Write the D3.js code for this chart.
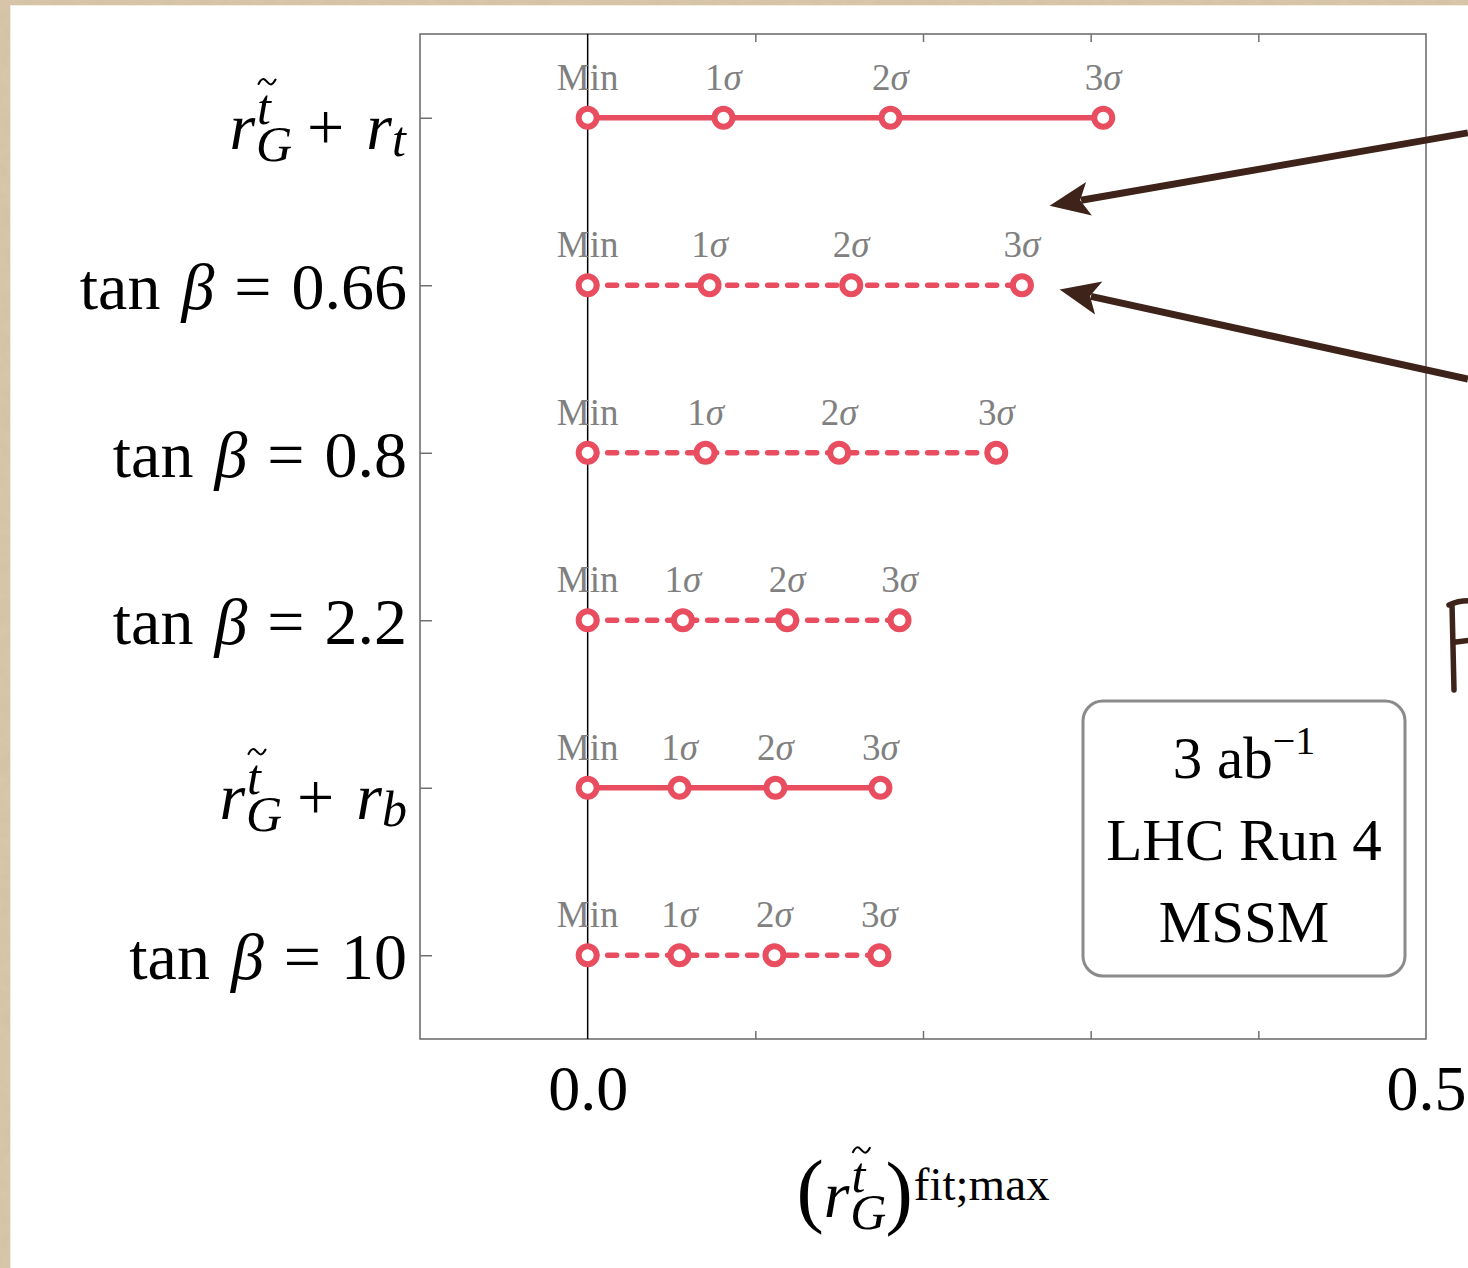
<!DOCTYPE html>
<html>
<head>
<meta charset="utf-8">
<script src="https://cdn.jsdelivr.net/npm/d3@7"></script>
<style>
  html, body { margin: 0; padding: 0; background: #ffffff; }
  svg { display: block; }
</style>
</head>
<body>
<script>
// ---- data -------------------------------------------------------------
const rowLabels = ["r_G^t + r_t", "tan β = 0.66", "tan β = 0.8", "tan β = 2.2", "r_G^t + r_b", "tan β = 10"];
const lineStyles = ["solid", "dashed", "dashed", "dashed", "solid", "dashed"];
const minValues = [0, 0, 0, 0, 0, 0];
const sigma1Values = [0.081, 0.0727, 0.0703, 0.0568, 0.0548, 0.0548];
const sigma2Values = [0.1806, 0.1572, 0.1500, 0.1190, 0.1120, 0.1114];
const sigma3Values = [0.3075, 0.2590, 0.2437, 0.1860, 0.1746, 0.1740];
const pointLabels = ["Min", "1σ", "2σ", "3σ"];
const xTickLabels = [0.0, 0.5];
const xMinorTicks = [0.1, 0.2, 0.3, 0.4];
const legendLines = ["3 ab^−1", "LHC Run 4", "MSSM"];

// ---- layout -------------------------------------------------------------
const W = 1468, H = 1268;
const frame = { left: 420, right: 1426, top: 34, bottom: 1039 };
const serif = "'Liberation Serif', 'DejaVu Serif', serif";
const markColor = "#e84d60";
const inkBrown = "#3e231a";

const svg = d3.select("body").append("svg")
  .attr("width", W).attr("height", H)
  .attr("font-family", serif);

// paper background with a faint grain
const defs = svg.append("defs");
const grain = defs.append("filter").attr("id", "grain")
  .attr("x", 0).attr("y", 0).attr("width", "100%").attr("height", "100%");
grain.append("feTurbulence").attr("type", "fractalNoise")
  .attr("baseFrequency", 0.08).attr("numOctaves", 2).attr("seed", 3).attr("result", "n");
grain.append("feColorMatrix").attr("in", "n").attr("type", "matrix")
  .attr("values", "0 0 0 0 0.55  0 0 0 0 0.45  0 0 0 0 0.33  0 0 0 0.35 -0.05");
svg.append("rect").attr("width", W).attr("height", H).attr("fill", "#dac7aa");
svg.append("rect").attr("width", W).attr("height", H).attr("filter", "url(#grain)");
svg.append("rect").attr("x", 10).attr("y", 5).attr("width", W).attr("height", H).attr("fill", "#f4ecdc");
svg.append("rect").attr("x", 11).attr("y", 6).attr("width", W).attr("height", H).attr("fill", "#ffffff");

// ---- scales ---------------------------------------------------------------
const x = d3.scaleLinear().domain([-0.1, 0.5]).range([frame.left, frame.right]);
const y = d3.scaleLinear().domain([0.5, 6.5]).range([frame.top, frame.bottom]);

// ---- axes & frame ---------------------------------------------------------
const axisColor = "#707070";
function styleAxis(g) {
  g.select(".domain").remove();
  g.selectAll(".tick line").attr("stroke", axisColor).attr("stroke-width", 1.5);
}
svg.append("g").attr("transform", `translate(0,${frame.bottom})`)
  .call(d3.axisBottom(x).tickValues(xMinorTicks).tickSize(-8).tickFormat(""))
  .call(styleAxis);
svg.append("g").attr("transform", `translate(0,${frame.top})`)
  .call(d3.axisTop(x).tickValues(xMinorTicks).tickSize(-8).tickFormat(""))
  .call(styleAxis);
svg.append("g").attr("transform", `translate(${frame.left},0)`)
  .call(d3.axisLeft(y).tickValues(d3.range(1, rowLabels.length + 1)).tickSize(-12).tickFormat(""))
  .call(styleAxis);

// labelled ticks on the horizontal axis
const xLab = svg.append("g").attr("transform", `translate(0,${frame.bottom})`)
  .call(d3.axisBottom(x).tickValues(xTickLabels).tickSize(0).tickFormat(d3.format(".1f")));
xLab.select(".domain").remove();
xLab.selectAll("text").attr("y", 71).attr("dy", 0)
  .attr("font-family", serif).attr("font-size", 64).attr("fill", "#000");

svg.append("rect")
  .attr("x", frame.left).attr("y", frame.top)
  .attr("width", frame.right - frame.left).attr("height", frame.bottom - frame.top)
  .attr("fill", "none").attr("stroke", axisColor).attr("stroke-width", 1.6);

// zero reference line
svg.append("line")
  .attr("x1", x(0)).attr("x2", x(0)).attr("y1", frame.top).attr("y2", frame.bottom)
  .attr("stroke", "#000").attr("stroke-width", 1.5);

// ---- compound symbol r~_G^t --------------------------------------------------
// Italic r with a stacked subscript G and superscript t; the text cursor
// ends on the subscript baseline after G.
const F = 66, f = 50, supShift = 25, subShift = 12;
function appendRG(text) {
  text.append("tspan").attr("font-style", "italic").attr("font-size", F).text("r");
  text.append("tspan").attr("font-style", "italic").attr("font-size", f)
    .attr("dx", 2).attr("dy", -supShift).text("t");
  text.append("tspan").attr("font-style", "italic").attr("font-size", f)
    .attr("dx", -f * 0.30).attr("dy", supShift + subShift).text("G");
}
// a drawn tilde accent above the character at charIndex
function addTilde(group, text, charIndex) {
  const ext = text.node().getExtentOfChar(charIndex);
  const cx = ext.x + ext.width * 0.5 + 3, cy = ext.y + 3;
  const w = 17, a = 3.6;
  group.append("path")
    .attr("d", `M${cx - w / 2},${cy + a * 0.6} C${cx - w / 4},${cy - a * 1.6} ${cx - w / 8},${cy - a * 0.6} ${cx},${cy}`
      + ` C${cx + w / 8},${cy + a * 0.6} ${cx + w / 4},${cy + a * 1.6} ${cx + w / 2},${cy - a * 0.6}`)
    .attr("fill", "none").attr("stroke", "#000").attr("stroke-width", 2.1)
    .attr("stroke-linecap", "round");
}

// ---- row labels ------------------------------------------------------------
const labelRight = 407;
rowLabels.forEach((lab, i) => {
  const g = svg.append("g");
  const t = g.append("text").attr("x", 0).attr("fill", "#000").attr("font-size", F);
  if (lab.startsWith("tan")) {
    const value = lab.split("=")[1].trim();
    t.attr("y", y(i + 1) + 24);
    t.append("tspan").text("tan");
    t.append("tspan").attr("font-style", "italic").attr("dx", 21).text("β");
    t.append("tspan").attr("dx", 20).text("=");
    t.append("tspan").attr("dx", 20).text(value);
  } else {
    const tail = lab.split("+")[1].trim().split("_")[1];
    t.attr("y", y(i + 1) + 31);
    appendRG(t);
    t.append("tspan").attr("font-size", F).attr("dx", 15).attr("dy", -subShift).text("+");
    t.append("tspan").attr("font-size", F).attr("font-style", "italic").attr("dx", 22).text("r");
    t.append("tspan").attr("font-size", f).attr("font-style", "italic")
      .attr("dy", 7).text(tail);
    addTilde(g, t, 1);
  }
  const bb = t.node().getBBox();
  g.attr("transform", `translate(${labelRight - (bb.x + bb.width)},0)`);
});

// ---- series ------------------------------------------------------------------
const rows = rowLabels.map((lab, i) => ({
  row: i + 1,
  style: lineStyles[i],
  values: [minValues[i], sigma1Values[i], sigma2Values[i], sigma3Values[i]]
}));

const line = d3.line().x(d => x(d.v)).y(d => y(d.row));
const series = svg.append("g").selectAll("g").data(rows).join("g");

series.append("path")
  .attr("d", r => line(r.values.map(v => ({ v, row: r.row }))))
  .attr("fill", "none")
  .attr("stroke", markColor)
  .attr("stroke-width", 5.5)
  .attr("stroke-linecap", r => r.style === "dashed" ? "round" : "butt")
  .attr("stroke-dasharray", r => r.style === "dashed" ? "9 11" : null);

series.selectAll("circle")
  .data(r => r.values.map(v => ({ v, row: r.row })))
  .join("circle")
  .attr("cx", d => x(d.v)).attr("cy", d => y(d.row))
  .attr("r", 9)
  .attr("fill", "#fff")
  .attr("stroke", markColor)
  .attr("stroke-width", 6);

series.selectAll("text.pt")
  .data(r => r.values.map((v, k) => ({ v, row: r.row, k })))
  .join("text")
  .attr("class", "pt")
  .attr("x", d => x(d.v)).attr("y", d => y(d.row) - 28)
  .attr("text-anchor", "middle")
  .attr("font-size", 37)
  .attr("fill", "#808080")
  .each(function (d) {
    const s = pointLabels[d.k];
    const t = d3.select(this);
    if (s.endsWith("σ")) {
      t.append("tspan").text(s.slice(0, -1));
      t.append("tspan").attr("font-style", "italic").text("σ");
    } else {
      t.text(s);
    }
  });

// ---- axis title --------------------------------------------------------------
{
  const g = svg.append("g");
  const t = g.append("text").attr("x", 0).attr("y", 1215).attr("fill", "#000");
  t.append("tspan").attr("font-size", 82).attr("dy", 2).text("(");
  t.append("tspan").attr("font-size", F).attr("dx", -3).attr("dy", -2).text("");
  appendRG(t);
  t.append("tspan").attr("font-size", 82).attr("dx", -1).attr("dy", -subShift + 2).text(")");
  t.append("tspan").attr("font-size", 47).attr("dx", 1).attr("dy", -19).text("fit;max");
  addTilde(g, t, 2);
  const bb = t.node().getBBox();
  g.attr("transform", `translate(${x(0.2) - (bb.x + bb.width / 2)},0)`);
}

// ---- legend box --------------------------------------------------------------
{
  const box = { x: 1083, y: 701, w: 322, h: 275 };
  svg.append("rect")
    .attr("x", box.x).attr("y", box.y).attr("width", box.w).attr("height", box.h)
    .attr("rx", 20).attr("ry", 20)
    .attr("fill", "#fff").attr("stroke", "#8a8a8a").attr("stroke-width", 3);
  const cx = box.x + box.w / 2;
  legendLines.forEach((s, i) => {
    const t = svg.append("text")
      .attr("x", cx).attr("y", box.y + 77 + i * 82)
      .attr("text-anchor", "middle").attr("font-size", 59).attr("fill", "#000");
    if (s.includes("^")) {
      const [base, exp] = s.split("^");
      t.append("tspan").text(base);
      t.append("tspan").attr("font-size", 40).attr("dy", -24).text(exp);
    } else {
      t.text(s);
    }
  });
}

// ---- annotation arrows ------------------------------------------------------
const arrows = [
  { from: [0.525, 1.09], to: [0.2755, 1.525] },
  { from: [0.525, 2.56], to: [0.2815, 2.025] }
];
arrows.forEach(a => {
  const x1 = x(a.from[0]), y1 = y(a.from[1]);
  const x2 = x(a.to[0]), y2 = y(a.to[1]);
  const ang = Math.atan2(y2 - y1, x2 - x1);
  const L = 40, hw = 17;
  const bx = x2 - L * Math.cos(ang), by = y2 - L * Math.sin(ang);
  const nx = -Math.sin(ang), ny = Math.cos(ang);
  svg.append("line")
    .attr("x1", x1).attr("y1", y1)
    .attr("x2", x2 - (L - 8) * Math.cos(ang)).attr("y2", y2 - (L - 8) * Math.sin(ang))
    .attr("stroke", inkBrown).attr("stroke-width", 7);
  const notch = [x2 - (L - 9) * Math.cos(ang), y2 - (L - 9) * Math.sin(ang)];
  svg.append("path")
    .attr("d", `M${x2},${y2} L${bx + nx * hw},${by + ny * hw} L${notch[0]},${notch[1]} L${bx - nx * hw},${by - ny * hw} Z`)
    .attr("fill", inkBrown);
});

// hand-lettered glyph at the right margin
svg.append("path")
  .attr("d", "M1452,604 L1454,690 M1449,605 Q1460,600 1472,601 M1456,642 L1472,640")
  .attr("fill", "none").attr("stroke", inkBrown).attr("stroke-width", 5.5)
  .attr("stroke-linecap", "round");
</script>
</body>
</html>
